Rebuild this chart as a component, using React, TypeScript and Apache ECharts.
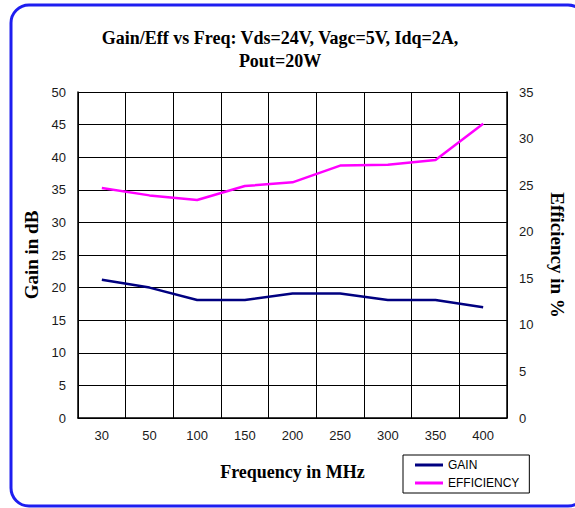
import React, { useEffect, useRef } from "react";
import * as echarts from "echarts";

const categories = ["30", "50", "100", "150", "200", "250", "300", "350", "400"];
const gainValues = [21.2, 20.0, 18.1, 18.1, 19.1, 19.1, 18.1, 18.1, 17.0];
const efficiencyValues = [24.7, 23.9, 23.4, 24.9, 25.3, 27.1, 27.2, 27.7, 31.6];
const titleText = "Gain/Eff vs Freq: Vds=24V, Vagc=5V, Idq=2A,\nPout=20W";

export default function App() {
  const ref = useRef<HTMLDivElement>(null);
  useEffect(() => {
    if (!ref.current) return;
    const chart = echarts.init(ref.current, null, { renderer: "svg" });
    const serif = "'Liberation Serif', 'Times New Roman', serif";
    const sans = "'Liberation Sans', Arial, sans-serif";
    chart.setOption({
      animation: false,
      backgroundColor: "#ffffff",
      graphic: [
        {
          type: "rect",
          z: -10,
          silent: true,
          shape: { x: 11, y: 5, width: 575, height: 501, r: 18 },
          style: { fill: "#ffffff", stroke: "#1e1ef0", lineWidth: 3 },
        },
      ],
      title: {
        text: titleText,
        left: 275,
        textAlign: "center",
        top: 21,
        textStyle: {
          fontFamily: serif,
          fontWeight: "bold",
          fontSize: 18,
          lineHeight: 23,
          color: "#000",
        },
      },
      legend: {
        left: 403,
        top: 455,
        orient: "vertical",
        borderColor: "#000",
        borderWidth: 1,
        padding: [3, 10, 3, 12],
        itemGap: 4,
        itemWidth: 28,
        itemHeight: 3,
        icon: "rect",
        textStyle: { fontFamily: sans, fontSize: 12, color: "#000", lineHeight: 14 },
        data: ["GAIN", "EFFICIENCY"],
      },
      grid: { left: 78, right: 60, top: 92, bottom: 90 },
      xAxis: {
        type: "category",
        data: categories,
        boundaryGap: true,
        name: "Frequency in MHz",
        nameLocation: "middle",
        nameGap: 45,
        nameTextStyle: { fontFamily: serif, fontWeight: "bold", fontSize: 18, color: "#000" },
        axisLine: { lineStyle: { color: "#000", width: 1.5 } },
        axisTick: { show: false },
        axisLabel: { interval: 0, margin: 11, fontFamily: sans, fontSize: 13, color: "#1a1a1a" },
        splitLine: { show: true, interval: 0, lineStyle: { color: "#000", width: 1 } },
      },
      yAxis: [
        {
          type: "value",
          min: 0,
          max: 50,
          interval: 5,
          name: "Gain in dB",
          nameLocation: "middle",
          nameGap: 35,
          nameRotate: 90,
          nameTextStyle: { fontFamily: serif, fontWeight: "bold", fontSize: 19, color: "#000" },
          axisLine: { show: true, lineStyle: { color: "#000", width: 1.5 } },
          axisTick: { show: false },
          axisLabel: { margin: 12, fontFamily: sans, fontSize: 13, color: "#1a1a1a" },
          splitLine: { show: true, lineStyle: { color: "#000", width: 1 } },
        },
        {
          type: "value",
          min: 0,
          max: 35,
          interval: 5,
          name: "Efficiency in %",
          nameLocation: "middle",
          nameGap: 41,
          nameRotate: -90,
          nameTextStyle: { fontFamily: serif, fontWeight: "bold", fontSize: 19, color: "#000" },
          axisLine: { show: true, lineStyle: { color: "#000", width: 1.5 } },
          axisTick: { show: false },
          axisLabel: { margin: 12, fontFamily: sans, fontSize: 13, color: "#1a1a1a" },
          splitLine: { show: false },
        },
      ],
      series: [
        {
          name: "GAIN",
          type: "line",
          yAxisIndex: 0,
          data: gainValues,
          symbol: "none",
          itemStyle: { color: "#000080" },
          lineStyle: { color: "#000080", width: 2.5 },
        },
        {
          name: "EFFICIENCY",
          type: "line",
          yAxisIndex: 1,
          data: efficiencyValues,
          symbol: "none",
          itemStyle: { color: "#ff00ff" },
          lineStyle: { color: "#ff00ff", width: 2.5 },
        },
      ],
    });
    return () => chart.dispose();
  }, []);
  return (
    <div
      ref={ref}
      style={{ position: "absolute", left: 0, top: 0, width: 575, height: 508 }}
    />
  );
}
